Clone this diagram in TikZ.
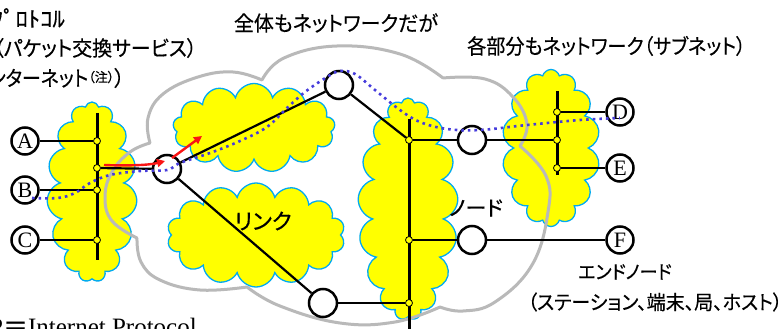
\documentclass[tikz,border=0pt]{standalone}
\usepackage{fontspec}
\setmainfont{Liberation Serif}
\newfontfamily\jp[RawFeature=+palt,FakeBold=0.4]{Noto Sans CJK JP}
\usetikzlibrary{shapes.symbols,arrows.meta}
\definecolor{cloudyellow}{RGB}{255,255,0}
\definecolor{cloudblue}{RGB}{0,170,240}
\definecolor{netgrey}{RGB}{185,185,185}
\definecolor{pathblue}{RGB}{70,60,220}
\definecolor{arrowred}{RGB}{250,20,20}
\newcommand{\jpsq}[2][0.95]{\scalebox{#1}[1]{#2}}
\tikzset{
 subnet/.style={cloud, draw=cloudblue, fill=cloudyellow, line width=1.3pt, cloud ignores aspect, inner sep=0pt, outer sep=0pt},
 greyline/.style={draw=netgrey, line width=3pt, line cap=round, line join=round},
 wire/.style={draw=black, line width=2.2pt},
 busline/.style={draw=black, line width=3pt},
 tapdot/.style={circle, draw=black, fill=cloudyellow, line width=0.8pt, minimum size=7pt, inner sep=0pt},
 router/.style={circle, draw=black, fill=white, line width=2.5pt, minimum size=28pt, inner sep=0pt},
 host/.style={circle, draw=black, fill=white, line width=2.5pt, minimum size=27pt, inner sep=0pt, font=\fontsize{22}{22}\selectfont},
 jptext/.style={font=\jp\fontsize{21}{24}\selectfont, inner sep=0pt},
 dotpath/.style={draw=pathblue, line width=2.6pt, dash pattern=on 2.6pt off 4pt},
 redarrow/.style={draw=arrowred, line width=2.4pt, -{Triangle[length=8pt,width=8pt]}},
}
\begin{document}
\begin{tikzpicture}[x=1pt,y=-1pt]
\clip (0,0) rectangle (780,329);
\fill[white] (0,0) rectangle (780,329);
% yellow sub-network clouds
\node[subnet, cloud puffs=15, minimum width=90pt, minimum height=180pt] (c1) at (92,192) {};
\node[subnet, cloud puffs=13, minimum width=162pt, minimum height=89pt] (c2) at (254,128) {};
\node[subnet, cloud puffs=14, minimum width=178pt, minimum height=104pt] (c3) at (256,235) {};
\node[subnet, cloud puffs=17, minimum width=100pt, minimum height=222pt] (c4) at (408,209) {};
\node[subnet, cloud puffs=14, minimum width=98pt, minimum height=157pt] (c5) at (551,148) {};
% grey outline of the whole network
\draw[greyline]
 plot[smooth, tension=0.7] coordinates {(150,143) (148,118) (163,94) (198,77) (233,72) (262,80)}
 plot[smooth, tension=0.7] coordinates {(262,80) (284,58) (337,46) (400,54) (443,78)}
 plot[smooth, tension=0.7] coordinates {(443,78) (485,79) (513,97) (527,124) (520,146)}
 plot[smooth, tension=0.7] coordinates {(520,146) (546,176) (548,212) (532,265) (495,302) (463,311) (440,307)}
 plot[smooth, tension=0.7] coordinates {(440,307) (395,322) (340,323) (280,306) (247,287)}
 plot[smooth, tension=0.7] coordinates {(247,287) (200,290) (160,280) (141,262) (137,238)}
 plot[smooth, tension=0.7] coordinates {(137,238) (112,221) (105,197) (112,172) (130,152) (150,143)};
% bus lines
\coordinate (lb1) at (97,113); \coordinate (lb2) at (97,260);
\coordinate (mb1) at (409,119); \coordinate (mb2) at (409,340);
\coordinate (rb1) at (557,91); \coordinate (rb2) at (557,175);
\draw[busline] (lb1) -- (lb2);
\draw[busline] (mb1) -- (mb2);
\draw[busline] (rb1) -- (rb2);
% taps
\node[tapdot] (tA) at (97,141) {};
\node[tapdot] (tR) at (97,168) {};
\node[tapdot] (tB) at (97,190) {};
\node[tapdot] (tC) at (97,240) {};
\node[tapdot] (m1) at (409,140) {};
\node[tapdot] (m2) at (409,240) {};
\node[tapdot] (m3) at (409,303) {};
\node[tapdot] (rD) at (557,112) {};
\node[tapdot] (r4) at (557,140) {};
\node[tapdot] (rE) at (557,168) {};
% routers and hosts
\node[router] (R1) at (167,169) {};
\node[router] (R2) at (339,85) {};
\node[router] (R3) at (323,303) {};
\node[router] (R4) at (472,140) {};
\node[router] (R5) at (472,240) {};
\node[host] (A) at (25,141) {A};
\node[host] (B) at (25,190) {B};
\node[host] (C) at (25,240) {C};
\node[host] (D) at (620,112) {D};
\node[host] (E) at (620,168) {E};
\node[host] (F) at (620,240) {F};
% wires
\draw[wire] (A) -- (tA);
\draw[wire] (B) -- (tB);
\draw[wire] (C) -- (tC);
\draw[wire] (tR) -- (R1);
\draw[wire] (R1) -- (R2);
\draw[wire] (R1) -- (R3);
\draw[wire] (R2) -- (m1);
\draw[wire] (m1) -- (R4);
\draw[wire] (R4) -- (r4);
\draw[wire] (m2) -- (R5);
\draw[wire] (R5) -- (F);
\draw[wire] (R3) -- (m3);
\draw[wire] (rD) -- (D);
\draw[wire] (rE) -- (E);
% texts
\node[jptext, anchor=east, font=\jp\fontsize{22}{24}\selectfont] (t1) at (65,18) {\jpsq[1.12]{ﾌﾟﾛﾄｺﾙ}};
\node[jptext, anchor=east] (t2) at (197,48) {\jpsq{（パケット交換サービス）}};
\node[jptext, anchor=east] (t3) at (125,78) {\jpsq[0.9]{（インターネット}\raisebox{4pt}{\fontsize{13}{13}\selectfont（注）}）};
\node[jptext] (t4) at (336,23) {\jpsq{全体もネットワークだが}};
\node[jptext, anchor=west] (t5) at (467,46) {\jpsq[0.91]{各部分もネットワーク（サブネット）}};
\node[jptext, font=\jp\fontsize{22}{24}\selectfont] (t6) at (263,221) {リンク};
\node[jptext] (t7) at (476,208) {ノード};
\node[jptext, font=\jp\fontsize{19}{22}\selectfont] (t8) at (625,272) {\jpsq{エンドノード}};
\node[jptext, font=\jp\fontsize{20}{22}\selectfont] (t9) at (655,302) {\jpsq{（ステーション、端末、局、ホスト）}};
\node[anchor=base east, inner sep=0pt, font=\fontsize{25}{25}\selectfont] (t10) at (197,335) {IP{\jp ＝}Internet Protocol};
% path of a packet
\draw[dotpath] plot[smooth, tension=0.6] coordinates {(32,198) (58,198) (75,193) (90,183) (110,175) (140,171) (167,170) (180,163) (210,153) (240,141) (267,127) (287,108) (305,92) (327,77) (340,71) (355,74) (375,90) (400,110) (420,122) (447,129) (480,130) (527,125) (580,120) (620,118)};
% red arrows
\coordinate (ra1) at (104,165); \coordinate (ra2) at (165,161);
\coordinate (rb1s) at (172,158); \coordinate (rb2e) at (202,136);
\draw[redarrow] (ra1) .. controls (130,166) and (150,165) .. (ra2);
\draw[redarrow] (rb1s) -- (rb2e);
\end{tikzpicture}
\end{document}
